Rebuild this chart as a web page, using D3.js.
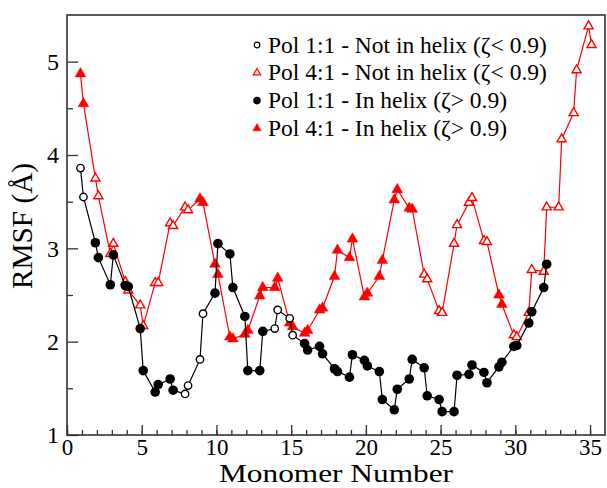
<!DOCTYPE html>
<html><head><meta charset="utf-8">
<script src="https://cdn.jsdelivr.net/npm/d3@7/dist/d3.min.js"></script>
<style>body{margin:0;background:#fff}svg{display:block}</style>
</head><body><svg id="c" width="607" height="488"></svg>
<script>
// Pol 1:1 (black) : x positions, RMSF values, in-helix flag (1 = in helix)
const blackX = [0.9,1.1,1.9,2.1,2.9,3.1,3.9,4.1,4.9,5.1,5.9,6.1,6.9,7.1,7.9,8.1,8.9,9.1,9.9,10.1,10.9,11.1,11.9,12.1,12.9,13.1,13.9,14.1,14.9,15.1,15.9,16.1,16.9,17.1,17.9,18.1,18.9,19.1,19.9,20.1,20.9,21.1,21.9,22.1,22.9,23.1,23.9,24.1,24.9,25.1,25.9,26.1,26.9,27.1,27.9,28.1,28.9,29.1,29.9,30.1,30.9,31.1,31.9,32.1];
const blackY = [3.86,3.55,3.06,2.90,2.61,2.93,2.60,2.59,2.14,1.69,1.46,1.54,1.60,1.48,1.44,1.53,1.81,2.30,2.52,3.05,2.94,2.58,2.27,1.69,1.69,2.11,2.14,2.34,2.25,2.07,1.98,1.91,1.95,1.87,1.71,1.68,1.62,1.86,1.80,1.74,1.68,1.38,1.27,1.49,1.60,1.81,1.72,1.42,1.38,1.25,1.25,1.64,1.65,1.75,1.67,1.56,1.73,1.78,1.95,1.96,2.20,2.32,2.58,2.83];
const blackHelix = [0,0,1,1,1,1,1,1,1,1,1,1,1,1,0,0,0,0,1,1,1,1,1,1,1,1,0,0,0,0,1,1,1,1,1,1,1,1,1,1,1,1,1,1,1,1,1,1,1,1,1,1,1,1,1,1,1,1,1,1,1,1,1,1];
// Pol 4:1 (red)
const redX = [0.9,1.1,1.9,2.1,2.9,3.1,3.9,4.1,4.9,5.1,5.9,6.1,6.9,7.1,7.9,8.1,8.9,9.1,9.9,10.1,10.9,11.1,11.9,12.1,12.9,13.1,13.9,14.1,14.9,15.1,15.9,16.1,16.9,17.1,17.9,18.1,18.9,19.1,19.9,20.1,20.9,21.1,21.9,22.1,22.9,23.1,23.9,24.1,24.9,25.1,25.9,26.1,26.9,27.1,27.9,28.1,28.9,29.1,29.9,30.1,30.9,31.1,31.9,32.1,32.9,33.1,33.9,34.1,34.9,35.1];
const redY = [4.87,4.55,3.75,3.56,2.94,3.05,2.64,2.55,2.39,2.17,2.63,2.63,3.27,3.24,3.44,3.41,3.53,3.49,2.83,2.72,2.05,2.03,2.08,2.12,2.49,2.58,2.58,2.68,2.20,2.16,2.09,2.12,2.34,2.36,2.70,2.98,2.90,3.10,2.48,2.52,2.70,2.87,3.52,3.63,3.43,3.42,2.72,2.67,2.33,2.31,3.05,3.25,3.49,3.54,3.08,3.07,2.50,2.40,2.07,2.05,2.31,2.77,2.75,3.44,3.44,4.17,4.45,4.91,5.38,5.18];
const redHelix = [1,1,0,0,0,0,0,0,0,0,0,0,0,0,0,0,1,1,1,1,1,1,1,1,1,1,1,1,1,1,1,1,1,1,1,1,1,1,1,1,1,1,1,1,1,1,0,0,0,0,0,0,0,0,0,0,1,1,0,0,0,0,0,0,0,0,0,0,0,0];
const xTicks = [0,5,10,15,20,25,30,35];
const yTicks = [1,2,3,4,5];
const legendLabels = ["Pol 1:1 - Not in helix (ζ< 0.9)","Pol 4:1 - Not in helix (ζ< 0.9)","Pol 1:1 - In helix (ζ> 0.9)","Pol 4:1 - In helix (ζ> 0.9)"];
const xTitle = "Monomer Number", yTitle = "RMSF (Å)";

const FF = '"Liberation Serif","Times New Roman",serif';
const svg = d3.select("#c");
const L=67, R=605, T=15, B=435;
const x = d3.scaleLinear().domain([0,36]).range([L,R]);
const y = d3.scaleLinear().domain([1,5.5]).range([B,T]);
const frame="#333";

// ticks (inward)
const gx = svg.append("g").attr("transform",`translate(0,${B})`)
  .call(d3.axisBottom(x).tickValues(d3.range(0,36,1)).tickSize(-5).tickFormat(""));
const gx2 = svg.append("g").attr("transform",`translate(0,${B})`)
  .call(d3.axisBottom(x).tickValues(xTicks).tickSize(-10).tickFormat(d3.format("d")));
const gy = svg.append("g").attr("transform",`translate(${L},0)`)
  .call(d3.axisLeft(y).tickValues(d3.range(1.5,5.5,1)).tickSize(-6).tickFormat(""));
const gy2 = svg.append("g").attr("transform",`translate(${L},0)`)
  .call(d3.axisLeft(y).tickValues(yTicks).tickSize(-11).tickFormat(d3.format("d")));
[gx,gx2,gy,gy2].forEach(g=>{g.attr("font-family",FF);g.select(".domain").remove();g.selectAll("line").attr("stroke",frame).attr("stroke-width",1.3);});
gx2.selectAll("text").attr("font-family",FF).attr("font-size",23).attr("fill","#000").attr("dy",null).attr("y",19.5);
gy2.selectAll("text").attr("font-family",FF).attr("font-size",24).attr("fill","#000").attr("x",-8);

svg.append("rect").attr("x",L).attr("y",T).attr("width",R-L).attr("height",B-T)
  .attr("fill","none").attr("stroke",frame).attr("stroke-width",1.6);

svg.append("text").attr("font-family",FF).attr("x",(L+R)/2).attr("y",481.5).attr("text-anchor","middle")
  .attr("font-size",26).attr("textLength",234).attr("lengthAdjust","spacingAndGlyphs").text(xTitle);
svg.append("text").attr("font-family",FF).attr("transform",`translate(32,${(T+B)/2+1}) rotate(-90)`)
  .attr("text-anchor","middle").attr("font-size",29).attr("textLength",126).attr("lengthAdjust","spacingAndGlyphs").text(yTitle);

const line = d3.line().x(d=>x(d[0])).y(d=>y(d[1]));
const red = redX.map((v,i)=>[v,redY[i],redHelix[i]]);
const blk = blackX.map((v,i)=>[v,blackY[i],blackHelix[i]]);
const tri = d3.symbol().type(d3.symbolTriangle);

svg.append("path").datum(red).attr("d",line).attr("fill","none").attr("stroke","#f00").attr("stroke-width",1.2);
svg.selectAll(".rt").data(red).join("path").attr("class","rt")
  .attr("transform",d=>`translate(${x(d[0])},${y(d[1])})`)
  .attr("d",d=>tri.size(d[2]?50:36)())
  .attr("fill",d=>d[2]?"#f00":"#fff").attr("stroke","#f00").attr("stroke-width",d=>d[2]?0.5:1.4);

svg.append("path").datum(blk).attr("d",line).attr("fill","none").attr("stroke","#000").attr("stroke-width",1.2);
svg.selectAll(".bc").data(blk).join("circle").attr("class","bc")
  .attr("cx",d=>x(d[0])).attr("cy",d=>y(d[1])).attr("r",d=>d[2]?4.8:3.7)
  .attr("fill",d=>d[2]?"#000":"#fff").attr("stroke","#000").attr("stroke-width",d=>d[2]?0:1.4);

// legend
const lg = svg.append("g");
const types = [["c",0],["t",0],["c",1],["t",1]];
legendLabels.forEach((lab,i)=>{
  const yy = 45 + i*27.8;
  const [k,f]=types[i];
  if(k==="c") lg.append("circle").attr("cx",257).attr("cy",yy).attr("r",f?3.8:2.8)
     .attr("fill",f?"#000":"#fff").attr("stroke","#000").attr("stroke-width",f?0:1.2);
  else lg.append("path").attr("transform",`translate(257,${yy})`).attr("d",tri.size(f?30:24)())
     .attr("fill",f?"#f00":"#fff").attr("stroke","#f00").attr("stroke-width",f?0.5:1.2);
  lg.append("text").attr("font-family",FF).attr("x",268).attr("y",yy+7.5).attr("font-size",23.5).text(lab);
});
</script></body></html>
